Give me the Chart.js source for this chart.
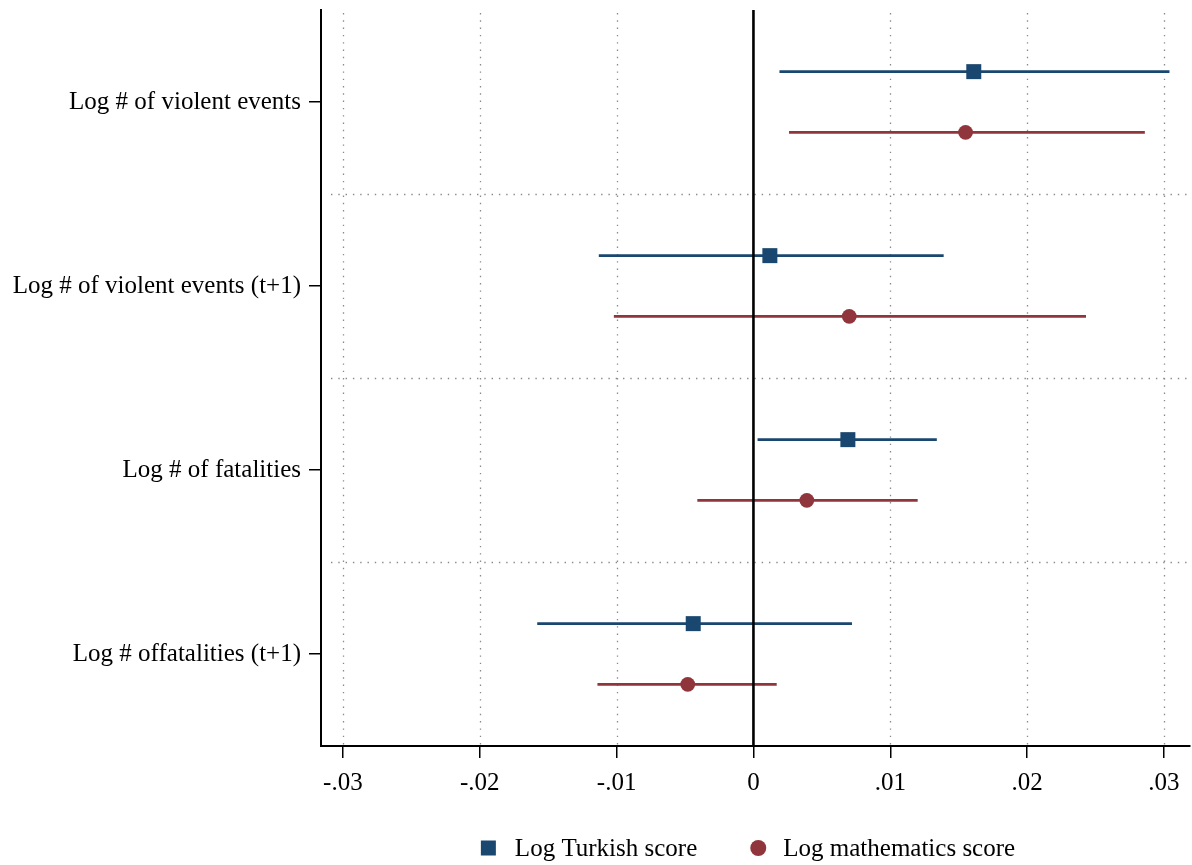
<!DOCTYPE html>
<html><head><meta charset="utf-8">
<script src="https://cdn.jsdelivr.net/npm/chart.js@4/dist/chart.umd.min.js"></script>
<style>html,body{margin:0;padding:0;background:#fff;overflow:hidden}canvas{display:block}</style>
</head><body><canvas id="c" width="1192" height="865" style="width:1192px;height:865px"></canvas>
<script>
const categories = ["Log # of violent events","Log # of violent events (t+1)","Log # of fatalities","Log # offatalities (t+1)"];
const seriesNames = ["Log Turkish score","Log mathematics score"];
const turkishCoef = [0.0161, 0.0012, 0.0069, -0.0044];
const turkishLow  = [0.0019, -0.0113, 0.0003, -0.0158];
const turkishHigh = [0.0304, 0.0139, 0.0134, 0.0072];
const mathCoef = [0.0155, 0.0070, 0.0039, -0.0048];
const mathLow  = [0.0026, -0.0102, -0.0041, -0.0114];
const mathHigh = [0.0286, 0.0243, 0.0120, 0.0017];
const xTicks = [-0.03, -0.02, -0.01, 0, 0.01, 0.02, 0.03];
const xTickLabels = ["-.03", "-.02", "-.01", "0", ".01", ".02", ".03"];

const BLUE = '#1a476f', RED = '#90353b';
const OFF = 0.165;
const FONT = "'Liberation Serif','Times New Roman',serif";

const datasets = [];
function addSeries(coef, lo, hi, color, sign, style, radius, name) {
  categories.forEach((c, i) => {
    datasets.push({
      type: 'line', label: '_ci', data: [{x: lo[i], y: i + sign*OFF}, {x: hi[i], y: i + sign*OFF}],
      borderColor: color, borderWidth: 2.8, pointRadius: 0, showLine: true, fill: false, order: 2
    });
  });
  datasets.push({
    type: 'scatter', label: name, data: coef.map((v, i) => ({x: v, y: i + sign*OFF})),
    backgroundColor: color, borderColor: color, borderWidth: 0, pointStyle: style, pointRadius: radius, order: 1
  });
}
addSeries(turkishCoef, turkishLow, turkishHigh, BLUE, -1, 'rect', 10.6, seriesNames[0]);
addSeries(mathCoef, mathLow, mathHigh, RED, 1, 'circle', 7.4, seriesNames[1]);

const gridPlugin = {
  id: 'gridPlugin',
  beforeDatasetsDraw(chart) {
    const {ctx, chartArea: a, scales: {x, y}} = chart;
    ctx.save();
    ctx.strokeStyle = '#8a8a8a';
    ctx.lineWidth = 1.3;
    ctx.setLineDash([1.4, 5.9]);
    xTicks.forEach(v => {
      if (v === 0) return;
      const px = Math.round(x.getPixelForValue(v)) + 0.5;
      ctx.beginPath(); ctx.moveTo(px, a.top + 3); ctx.lineTo(px, a.bottom); ctx.stroke();
    });
    for (let i = 0; i < categories.length - 1; i++) {
      const py = Math.round(y.getPixelForValue(i + 0.5)) + 0.5;
      ctx.beginPath(); ctx.moveTo(a.left + 10, py); ctx.lineTo(a.right, py); ctx.stroke();
    }
    ctx.restore();
  },
  afterDatasetsDraw(chart) {
    const {ctx, chartArea: a, scales: {x}} = chart;
    ctx.save();
    ctx.strokeStyle = '#000'; ctx.lineWidth = 2.6;
    const px = x.getPixelForValue(0);
    ctx.beginPath(); ctx.moveTo(px, a.top); ctx.lineTo(px, a.bottom); ctx.stroke();
    ctx.restore();
  }
};

const legendPlugin = {
  id: 'legendPlugin',
  afterDraw(chart) {
    const {ctx, chartArea: a} = chart;
    ctx.save();
    ctx.font = "25px " + FONT;
    ctx.textBaseline = 'middle';
    ctx.fillStyle = '#000';
    const w0 = ctx.measureText(seriesNames[0]).width, w1 = ctx.measureText(seriesNames[1]).width;
    const sq = 15, ci = 16, gap0 = 19, gap1 = 17, between = 53;
    const total = sq + gap0 + w0 + between + ci + gap1 + w1;
    const x0 = (a.left + a.right) / 2 - 7.5 - total / 2;
    const yc = chart.height - 17;
    ctx.fillStyle = BLUE; ctx.fillRect(x0, yc - sq/2, sq, sq);
    ctx.fillStyle = '#000'; ctx.fillText(seriesNames[0], x0 + sq + gap0, yc + 1);
    const x1 = x0 + sq + gap0 + w0 + between;
    ctx.fillStyle = RED; ctx.beginPath(); ctx.arc(x1 + ci/2, yc, ci/2, 0, Math.PI*2); ctx.fill();
    ctx.fillStyle = '#000'; ctx.fillText(seriesNames[1], x1 + ci + gap1, yc + 1);
    ctx.restore();
  }
};

new Chart(document.getElementById('c'), {
  type: 'scatter',
  data: { datasets },
  plugins: [gridPlugin, legendPlugin],
  options: {
    responsive: false, animation: false, devicePixelRatio: 1,
    layout: { autoPadding: false, padding: { top: 10, right: 2, bottom: 70, left: 0 } },
    plugins: { legend: { display: false }, tooltip: { enabled: false } },
    scales: {
      x: {
        type: 'linear', position: 'bottom', min: -0.0316, max: 0.0319,
        afterBuildTicks: s => { s.ticks = xTicks.map(v => ({value: v})); },
        afterFit: s => { s.height = 49; s.paddingLeft = 0; s.paddingRight = 0; },
        ticks: { autoSkip: false, maxRotation: 0, padding: 10, color: '#000', font: { family: FONT, size: 25 },
                 callback: (v, i) => xTickLabels[i] },
        grid: { drawOnChartArea: false, drawTicks: true, tickLength: 12, color: '#000', lineWidth: 1.5 },
        border: { display: true, color: '#000', width: 2 }
      },
      y: {
        type: 'linear', reverse: true, min: -0.5, max: 3.5,
        afterBuildTicks: s => { s.ticks = categories.map((c, i) => ({value: i})); },
        afterFit: s => { s.width = 321; s.paddingTop = 0; s.paddingBottom = 0; },
        ticks: { autoSkip: false, padding: 8, color: '#000', font: { family: FONT, size: 25 },
                 callback: (v, i) => categories[i] },
        grid: { drawOnChartArea: false, drawTicks: true, tickLength: 12, color: '#000', lineWidth: 1.5 },
        border: { display: true, color: '#000', width: 2 }
      }
    }
  }
});
</script></body></html>
